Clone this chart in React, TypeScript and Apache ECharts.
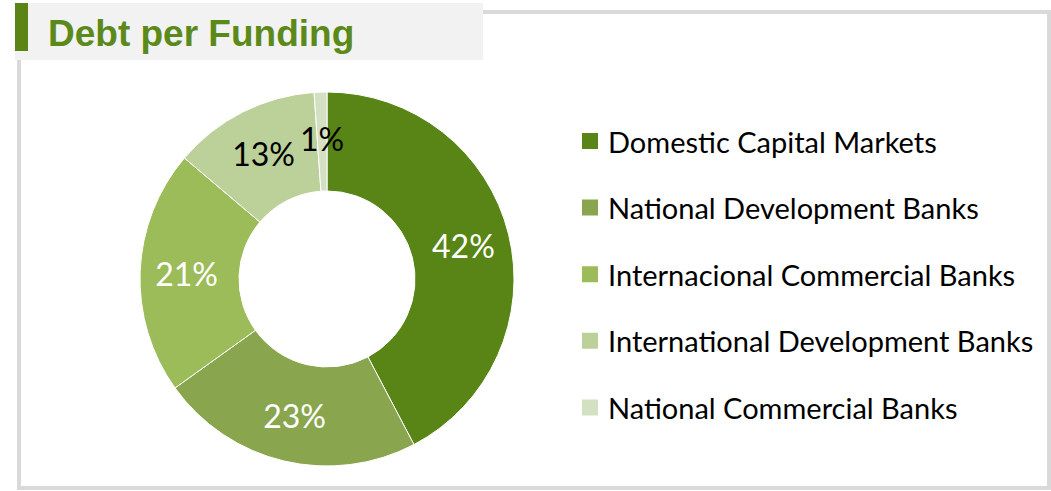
import React, { useEffect, useRef } from "react";
import * as echarts from "echarts";

const categories = [
  "Domestic Capital Markets",
  "National Development Banks",
  "Internacional Commercial Banks",
  "International Development Banks",
  "National Commercial Banks",
];
const values = [42.3, 22.8, 21.1, 12.7, 1.1];
const colors = ["#588516", "#89a64e", "#9cbb59", "#bcd09a", "#d4e0c2"];
const labelColors = ["#ffffff", "#ffffff", "#ffffff", "#000000", "#000000"];

export default function App() {
  const ref = useRef<HTMLDivElement>(null);
  useEffect(() => {
    if (!ref.current) return;
    const chart = echarts.init(ref.current, undefined, { renderer: "svg" });
    const font = "Lato, 'Open Sans', sans-serif";
    chart.setOption({
      animation: false,
      backgroundColor: "#ffffff",
      graphic: [
        {
          type: "rect",
          z: 0,
          shape: { x: 19, y: 12, width: 1030, height: 476 },
          style: { fill: "none", stroke: "#d9d9d9", lineWidth: 4 },
        },
        {
          type: "rect",
          z: 1,
          shape: { x: 15, y: 3, width: 468, height: 57 },
          style: { fill: "#f2f2f2" },
        },
        {
          type: "rect",
          z: 2,
          shape: { x: 15, y: 3, width: 13, height: 48 },
          style: { fill: "#5a8516" },
        },
        {
          type: "text",
          z: 2,
          x: 48,
          y: 33,
          style: {
            text: "Debt per Funding",
            fill: "#5b8a1a",
            font: "bold 37px 'Liberation Sans', Arial, sans-serif",
            textVerticalAlign: "middle",
          },
        },
      ],
      legend: {
        orient: "vertical",
        left: 580,
        top: 125,
        padding: 0,
        itemWidth: 18,
        itemHeight: 18,
        itemGap: 34.6,
        icon: "rect",
        data: categories,
        textStyle: {
          fontFamily: font,
          fontSize: 29,
          color: "#000000",
          lineHeight: 32,
          padding: [0, 0, 0, 4],
        },
        selectedMode: false,
      },
      series: [
        {
          type: "pie",
          center: [327, 279],
          radius: [88, 187],
          startAngle: 90,
          clockwise: true,
          percentPrecision: 0,
          avoidLabelOverlap: false,
          itemStyle: { borderColor: "#ffffff", borderWidth: 1 },
          label: {
            show: true,
            position: "inside",
            formatter: "{d}%",
            fontFamily: font,
            fontSize: 32,
          },
          labelLine: { show: false },
          emphasis: { disabled: true },
          data: categories.map((name, i) => ({
            name,
            value: values[i],
            itemStyle: { color: colors[i] },
            label: { color: labelColors[i] },
          })),
        },
      ],
    });
    return () => chart.dispose();
  }, []);
  return (
    <div
      ref={ref}
      style={{ position: "fixed", left: 0, top: 0, width: 1051, height: 491 }}
    />
  );
}
